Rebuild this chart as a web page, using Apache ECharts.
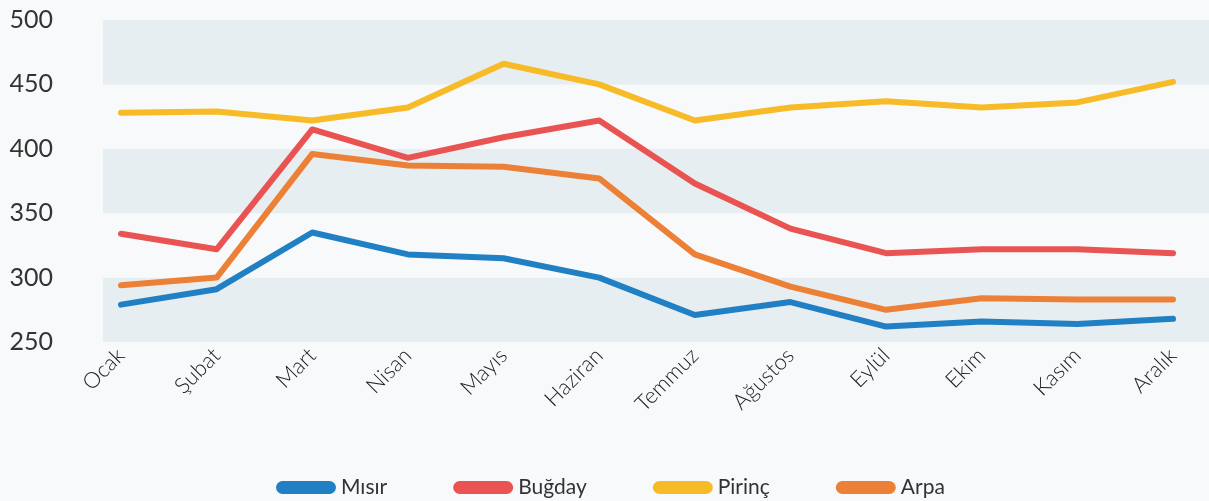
<!DOCTYPE html>
<html>
<head>
<meta charset="utf-8">
<script src="https://cdn.jsdelivr.net/npm/echarts@6/dist/echarts.min.js"></script>
<style>
  html, body { margin: 0; padding: 0; background: #f8f9fb; }
  #chart { width: 1209px; height: 501px; }
</style>
</head>
<body>
<div id="chart"></div>
<script>
const months = ['Ocak', 'Şubat', 'Mart', 'Nisan', 'Mayıs', 'Haziran', 'Temmuz', 'Ağustos', 'Eylül', 'Ekim', 'Kasım', 'Aralık'];
const misir = [279, 291, 335, 318, 315, 300, 271, 281, 262, 266, 264, 268];
const bugday = [334, 322, 415, 393, 409, 422, 373, 338, 319, 322, 322, 319];
const pirinc = [428, 429, 422, 432, 466, 450, 422, 432, 437, 432, 436, 452];
const arpa = [294, 300, 396, 387, 386, 377, 318, 293, 275, 284, 283, 283];

const pill = 'path://M6.5,0H53.5A6.5,6.5,0,0,1,53.5,13H6.5A6.5,6.5,0,0,1,6.5,0Z';
const font = 'Lato';

const chart = echarts.init(document.getElementById('chart'));

const lineSeries = (name, data, color) => ({
  name: name,
  type: 'line',
  xAxisIndex: 1,
  yAxisIndex: 1,
  data: data,
  symbol: 'none',
  lineStyle: { width: 6, color: color, cap: 'round', join: 'round' },
  itemStyle: { color: color },
  emphasis: { disabled: true }
});

chart.setOption({
  backgroundColor: '#f8f9fb',
  animation: false,
  color: ['#2180c3', '#e95351', '#f8bb28', '#ec8037'],
  legend: {
    left: 271,
    top: 472,
    itemWidth: 60,
    itemHeight: 13,
    itemGap: 66,
    textStyle: { fontFamily: font, fontSize: 21, color: '#333' },
    data: [
      { name: 'Mısır', icon: pill },
      { name: 'Buğday', icon: pill },
      { name: 'Pirinç', icon: pill },
      { name: 'Arpa', icon: pill }
    ]
  },
  grid: [
    { left: 103, right: 0, top: 20, bottom: 159 },
    { left: 121, right: 36, top: 20, bottom: 159 }
  ],
  xAxis: [
    { gridIndex: 0, type: 'value', min: 0, max: 1, show: false },
    {
      gridIndex: 1,
      type: 'category',
      data: months,
      boundaryGap: false,
      axisLine: { show: false },
      axisTick: { show: false },
      axisLabel: {
        rotate: 45,
        margin: 10,
        fontFamily: font,
        fontWeight: 300,
        fontSize: 22,
        color: '#222'
      }
    }
  ],
  yAxis: [
    {
      gridIndex: 0,
      type: 'value',
      min: 250,
      max: 500,
      interval: 50,
      axisLine: { show: false },
      axisTick: { show: false },
      splitLine: { show: false },
      splitArea: { show: true, areaStyle: { color: ['#e7eef1', '#f8f9fb'] } },
      axisLabel: {
        margin: 50,
        fontFamily: font,
        fontSize: 25,
        color: '#333'
      }
    },
    {
      gridIndex: 1,
      type: 'value',
      min: 250,
      max: 500,
      show: false
    }
  ],
  series: [
    lineSeries('Mısır', misir, '#2180c3'),
    lineSeries('Buğday', bugday, '#e95351'),
    lineSeries('Pirinç', pirinc, '#f8bb28'),
    lineSeries('Arpa', arpa, '#ec8037')
  ]
});
</script>
</body>
</html>
